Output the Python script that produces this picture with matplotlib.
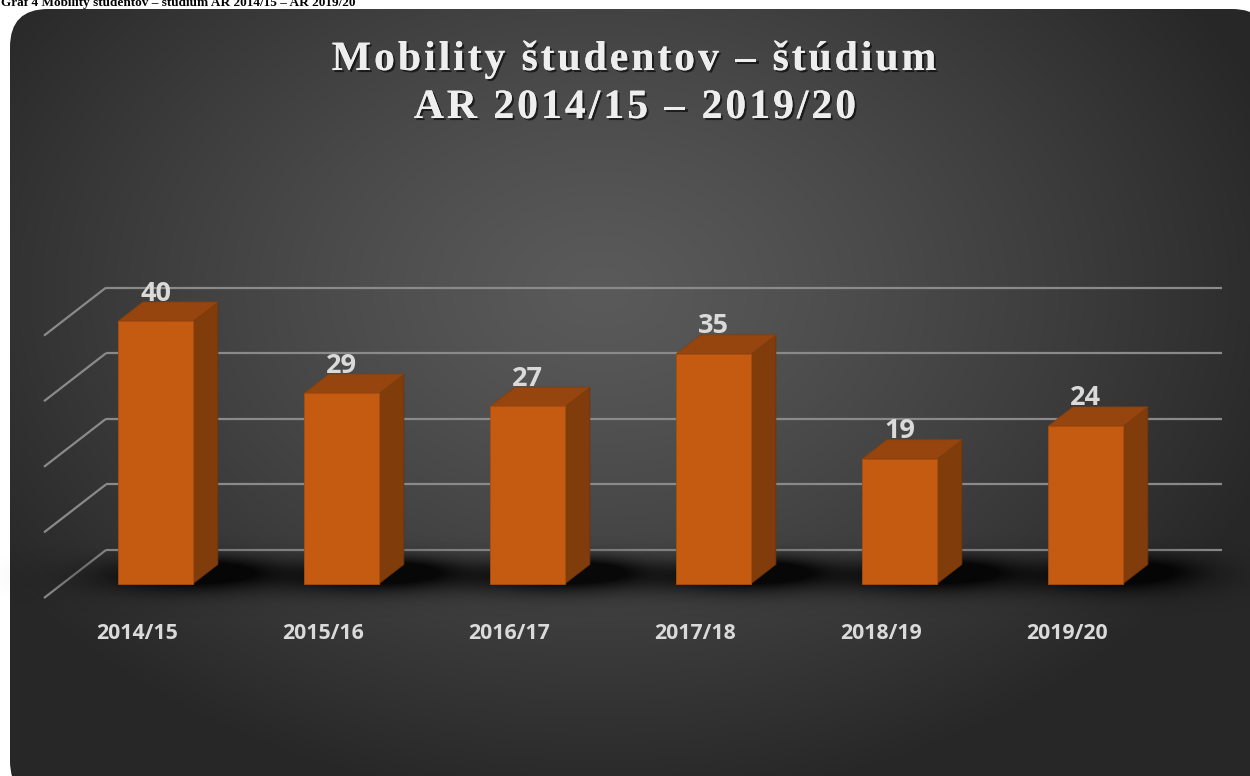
import numpy as np
import matplotlib
matplotlib.use('Agg')
import matplotlib.pyplot as plt
from matplotlib.patches import Polygon, FancyBboxPatch
from matplotlib.font_manager import FontProperties
import matplotlib.patheffects as pe

# ---------------- data ----------------
categories = ['2014/15', '2015/16', '2016/17', '2017/18', '2018/19', '2019/20']
values = [40, 29, 27, 35, 19, 24]
grid_values = [0, 10, 20, 30, 40]
title_lines = ['Mobility študentov – štúdium', 'AR 2014/15 – 2019/20']
caption = 'Graf 4 Mobility študentov – štúdium AR 2014/15 – AR 2019/20'

# ---------------- layout ----------------
W, H = 1250, 776
X0, PXC = 137.0, 186.0      # pixel x of first category (front plane), px per category
Y0B, PXV = 178.0, 6.56      # pixel y (from bottom) of value 0 (front plane), px per value unit
DX = 62.0 / PXC             # depth offset (full depth) in category units
DY = 48.0 / PXV             # depth offset in value units
D0, DD = 0.30, 0.40         # bar front depth and bar depth (fractions)
BW = 0.403                  # bar width in category units

FRONT, TOP, SIDE = '#C55A11', '#97450E', '#813C0C'
GRID = '#8a8a8a'
LABEL = '#dadada'

fig = plt.figure(figsize=(W / 100, H / 100), dpi=100)
fig.patch.set_facecolor('white')

# ---------- background (pixel coords) ----------
bg = fig.add_axes([0, 0, 1, 1])
bg.axis('off')
yy, xx = np.mgrid[0:H, 0:W] + 0.5
r = np.sqrt(((xx - 600) / 720) ** 2 + ((yy - 290) / 520) ** 2)
t = np.clip(r, 0, 1) ** 1.25
lum = (0x5a - (0x5a - 0x27) * t) / 255.0
img = np.dstack([lum, lum, lum])
im = bg.imshow(img, extent=(0, W, H, 0), zorder=0, interpolation='bilinear', aspect='auto')
bg.set_xlim(0, W)
bg.set_ylim(H, 0)
box = FancyBboxPatch((10, 9), 1260, 790, boxstyle='round,pad=0,rounding_size=38',
                     transform=bg.transData, facecolor='none', edgecolor='none')
bg.add_patch(box)
im.set_clip_path(box)

# caption (partly cut off at top, as in the source document)
bg.text(1, 6, caption, fontsize=9.5, fontweight='bold', family='Liberation Serif',
        color='black', ha='left', va='baseline', zorder=1)

# title with letter spacing
renderer = fig.canvas.get_renderer()
tfp = FontProperties(family='Liberation Serif', weight='bold', size=30)


def _w(s):
    tt = bg.text(0, 0, s, fontproperties=tfp)
    w = tt.get_window_extent(renderer).width
    tt.remove()
    return w


base = _w('||')


def spaced(s, cx, yb, spacing):
    advs = [_w('|' + c + '|') - base for c in s]
    total = sum(advs) + spacing * (len(s) - 1)
    x = cx - total / 2
    for c, a in zip(s, advs):
        bg.text(x, yb, c, fontproperties=tfp, color='#eeeeee', ha='left', va='baseline', zorder=3,
                path_effects=[pe.withSimplePatchShadow(offset=(1.5, -1.5), shadow_rgbFace='black', alpha=0.6),
                              pe.Normal()])
        x += a + spacing


spaced(title_lines[0], 634, 70, 3.0)
spaced(title_lines[1], 635, 118, 3.0)

# ---------- chart (data coords) ----------
ax = fig.add_axes([0, 0, 1, 1])
ax.axis('off')
ax.patch.set_alpha(0)
xl, xr = -X0 / PXC, (W - X0) / PXC
yl, yr = -Y0B / PXV, (H - Y0B) / PXV

n = len(categories)
left, right = -0.5, n - 0.5

# gridlines: back wall + left side wall
for g in grid_values:
    ax.plot([left + DX, right + DX], [g + DY, g + DY], color=GRID, lw=1.6, zorder=1,
            solid_capstyle='butt')
    ax.plot([left, left + DX], [g, g + DY], color=GRID, lw=1.6, zorder=1, solid_capstyle='butt')

# soft shadows on the floor
gx = np.linspace(xl, xr, 1250)
gy = np.linspace(yl, yr, 776)
GX, GY = np.meshgrid(gx, gy)
A = np.zeros_like(GX)
for i, v in enumerate(values):
    cx = i + D0 * DX + 0.14
    cy = D0 * DY + 0.35 * DD * DY
    A += np.exp(-(((GX - cx) / 0.34) ** 2 + ((GY - cy) / 1.9) ** 2) / 2)
    A += 0.6 * np.exp(-(((GX - (cx + 0.18)) / 0.2) ** 2 + ((GY - (cy + 1.2)) / 1.4) ** 2) / 2)
A = np.clip(A, 0, 1) * 0.88
rgba = np.zeros(GX.shape + (4,))
rgba[..., 3] = A
ax.imshow(rgba, extent=(xl, xr, yl, yr), origin='lower', aspect='auto', zorder=2,
          interpolation='bilinear')

# bars
for i, v in enumerate(values):
    x1 = i - BW / 2 + D0 * DX
    x2 = i + BW / 2 + D0 * DX
    yb = D0 * DY
    yt = v + D0 * DY
    ddx, ddy = DD * DX, DD * DY
    ax.add_patch(Polygon([(x2, yb), (x2, yt), (x2 + ddx, yt + ddy), (x2 + ddx, yb + ddy)],
                         closed=True, facecolor=SIDE, edgecolor='#6e330a', lw=0.6, zorder=3))
    ax.add_patch(Polygon([(x1, yt), (x2, yt), (x2 + ddx, yt + ddy), (x1 + ddx, yt + ddy)],
                         closed=True, facecolor=TOP, edgecolor='#84400d', lw=0.6, zorder=3))
    ax.add_patch(Polygon([(x1, yb), (x2, yb), (x2, yt), (x1, yt)],
                         closed=True, facecolor=FRONT, edgecolor='#a94d0f', lw=0.6, zorder=4))
    ax.text((x1 + x2) / 2, yt + ddy + 1.5 / PXV, str(v), ha='center', va='baseline',
            fontsize=19.5, fontweight='bold', family='Open Sans', color=LABEL, zorder=5)

# category labels
for i, c in enumerate(categories):
    ax.text(i, -41.0 / PXV, c, ha='center', va='baseline', fontsize=15.3, fontweight='bold',
            family='Open Sans', color=LABEL, zorder=5)

ax.set_xlim(xl, xr)
ax.set_ylim(yl, yr)

fig.savefig('out.png', dpi=100, facecolor='white')
